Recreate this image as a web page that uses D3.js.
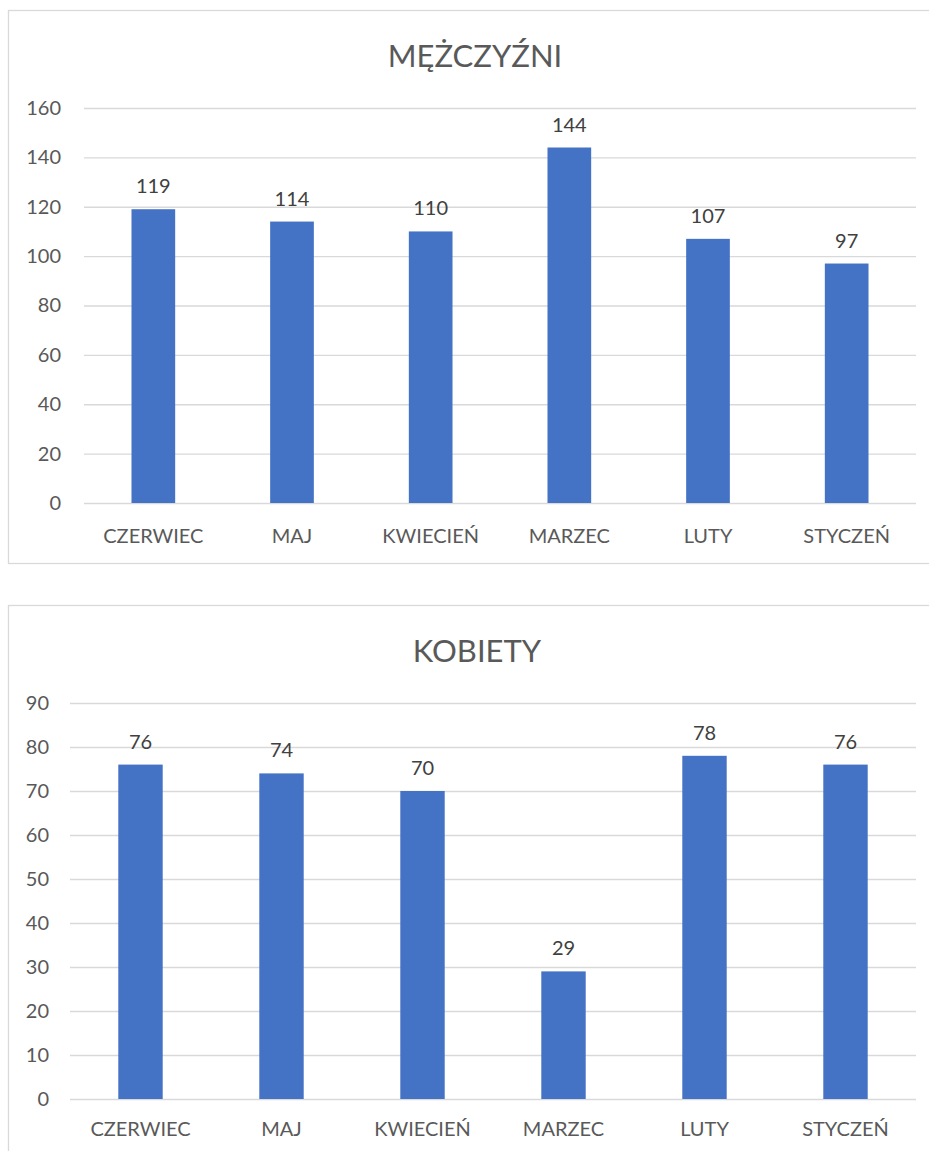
<!DOCTYPE html>
<html><head><meta charset="utf-8">
<script src="https://cdn.jsdelivr.net/npm/d3@7"></script>
<style>body{margin:0;background:#fff;}svg{display:block;}</style>
</head><body>
<svg id="c" width="929" height="1151"></svg>
<script>
const categories = ["CZERWIEC","MAJ","KWIECIEŃ","MARZEC","LUTY","STYCZEŃ"];
const menValues = [119,114,110,144,107,97];
const womenValues = [76,74,70,29,78,76];
const menTicks = [0,20,40,60,80,100,120,140,160];
const womenTicks = [0,10,20,30,40,50,60,70,80,90];
const titles = ["MĘŻCZYŹNI","KOBIETY"];

const svg = d3.select("#c");
const FONT = "Lato, 'Open Sans', sans-serif";

function chart(cfg){
  const g = svg.append("g");
  g.append("rect").attr("x",cfg.box[0]).attr("y",cfg.box[1]).attr("width",cfg.box[2]).attr("height",cfg.box[3])
    .attr("fill","#fff").attr("stroke","#d9d9d9").attr("stroke-width",1.3);
  g.append("text").attr("x",cfg.titleX).attr("y",cfg.titleY).attr("text-anchor","middle")
    .attr("font-family",FONT).attr("font-size",31).attr("fill","#595959").text(cfg.title);
  const x = d3.scaleBand().domain(categories).range([cfg.x0,cfg.x1]).paddingInner(0.685).paddingOuter(0.3425);
  const y = d3.scaleLinear().domain([0,d3.max(cfg.ticks)]).range([cfg.y0,cfg.yTop]);
  const yAxis = d3.axisLeft(y).tickValues(cfg.ticks).tickSize(-(cfg.x1-cfg.x0)).tickPadding(cfg.tickPad);
  const ga = g.append("g").attr("transform",`translate(${cfg.x0},0)`).call(yAxis);
  ga.select(".domain").remove();
  ga.selectAll(".tick line").attr("stroke","#d9d9d9").attr("stroke-width",1.3);
  ga.selectAll(".tick text").attr("font-family",FONT).attr("font-size",20).attr("fill","#595959");
  g.selectAll("rect.bar").data(cfg.values).enter().append("rect").attr("class","bar")
    .attr("x",(d,i)=>x(categories[i])).attr("width",x.bandwidth())
    .attr("y",d=>y(d)).attr("height",d=>y(0)-y(d)).attr("fill","#4472C4");
  g.selectAll("text.lbl").data(cfg.values).enter().append("text").attr("class","lbl")
    .attr("x",(d,i)=>x(categories[i])+x.bandwidth()/2).attr("y",d=>y(d)-16)
    .attr("text-anchor","middle").attr("font-family",FONT).attr("font-size",20).attr("fill","#404040").text(d=>d);
  const xAxis = d3.axisBottom(x).tickSize(0).tickPadding(0);
  const gx = g.append("g").attr("transform",`translate(0,${cfg.y0})`).call(xAxis);
  gx.select(".domain").remove();
  gx.selectAll(".tick text").attr("dy",null).attr("y",cfg.catDy).attr("font-family",FONT).attr("font-size",20).attr("fill","#595959");
}

chart({title:titles[0], values:menValues, ticks:menTicks, box:[8.5,10.5,940,553],
  titleX:475, titleY:67, x0:84, x1:916, y0:503, yTop:108, tickPad:23, catDy:40});
chart({title:titles[1], values:womenValues, ticks:womenTicks, box:[8.5,605.5,940,600],
  titleX:477, titleY:662, x0:70, x1:916, y0:1099, yTop:703, tickPad:21, catDy:37});
</script>
</body></html>
